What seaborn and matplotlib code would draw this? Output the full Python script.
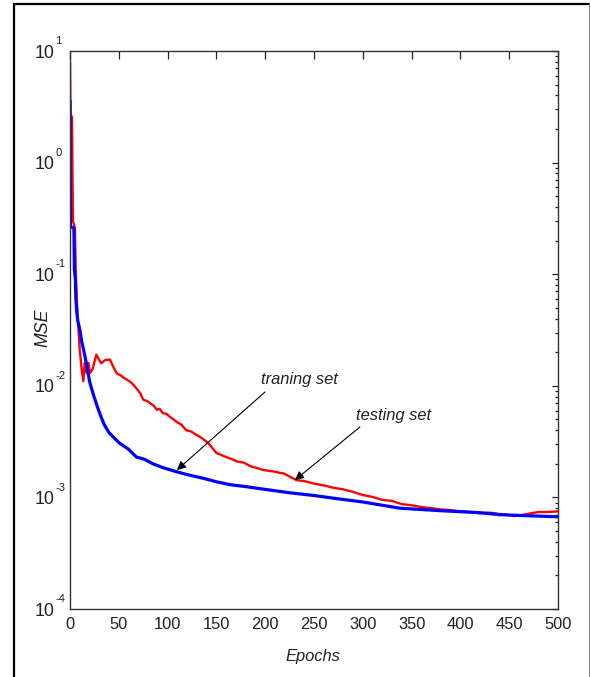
import matplotlib
matplotlib.use("Agg")
import matplotlib.pyplot as plt
import matplotlib.ticker as mticker
import matplotlib.transforms as mtransforms
from matplotlib import font_manager
from matplotlib.lines import Line2D
import numpy as np
import pandas as pd
import seaborn as sns

# Training-set MSE per epoch
train_epochs = [0, 0.5, 4, 4.5, 5.5, 6, 7, 8, 10, 12, 15, 18, 20, 22, 25, 28, 31, 35, 40,
                44, 50, 60, 68, 76, 85, 95, 109, 120, 137, 150, 164, 180, 191, 200, 225,
                250, 275, 300, 338, 380, 420, 440, 460, 480, 500]
train_mse = [3.6, 0.265, 0.26, 0.11, 0.09, 0.06, 0.045, 0.038, 0.032, 0.025, 0.019,
             0.014, 0.011, 0.0095, 0.0078, 0.0065, 0.0055, 0.0045, 0.0038, 0.0035,
             0.0031, 0.0027, 0.0023, 0.0022, 0.0020, 0.00185, 0.0017, 0.00160, 0.00148,
             0.00138, 0.0013, 0.00125, 0.00121, 0.00118, 0.00110, 0.00104, 0.00097,
             0.00091, 0.00080, 0.00076, 0.00073, 0.00070, 0.00069, 0.00068, 0.00067]

# Testing-set MSE per epoch
test_epochs = [0, 0.5, 2, 3, 5, 6, 7, 8, 10, 12, 13.7, 15, 17, 19, 20.5, 23, 27, 30, 32,
               36, 41, 44, 48, 52, 55, 58, 61.5, 65, 68, 72, 75, 79, 82, 86, 89, 92, 95,
               99, 102, 106, 110, 114, 119, 124, 128, 133, 137, 141, 144, 150, 155, 160,
               166, 171, 178, 185, 192, 198, 204, 210, 215, 219, 226, 232, 240, 250, 260,
               270, 280, 290, 300, 310, 320, 330, 340, 350, 360, 370, 380, 390, 400, 410,
               420, 430, 440, 448, 455, 462, 465, 472, 480, 490, 500]
test_mse = [8.0, 2.6, 2.6, 0.3, 0.26, 0.1, 0.06, 0.04, 0.021, 0.014, 0.011, 0.016, 0.013,
            0.016, 0.013, 0.014, 0.019, 0.017, 0.0159, 0.017, 0.0172, 0.015, 0.0129,
            0.0124, 0.0118, 0.0114, 0.0109, 0.0102, 0.0095, 0.0086, 0.0075, 0.0073,
            0.0070, 0.0066, 0.0061, 0.0062, 0.0057, 0.0056, 0.0053, 0.0050, 0.0047,
            0.0045, 0.0040, 0.0039, 0.0037, 0.0035, 0.0033, 0.0031, 0.0029, 0.0025,
            0.0024, 0.0023, 0.0022, 0.0021, 0.00205, 0.0019, 0.00183, 0.00176,
            0.00173, 0.00170, 0.00166, 0.00164, 0.00152, 0.00143, 0.00140, 0.00133,
            0.00128, 0.00122, 0.00118, 0.00112, 0.00105, 0.00101, 0.00095, 0.00093,
            0.00087, 0.00085, 0.00082, 0.00080, 0.00078, 0.00077, 0.00075, 0.00074,
            0.00072, 0.00073, 0.00071, 0.00070, 0.00068, 0.00069, 0.00070, 0.00072,
            0.00074, 0.00074, 0.00075]

x_ticks = list(range(0, 501, 50))
y_decades = [-4, -3, -2, -1, 0, 1]

sns.set_style("white")
available = {f.name for f in font_manager.fontManager.ttflist}
narrow = "Liberation Sans Narrow" in available
family = ["Liberation Sans Narrow" if narrow else "Liberation Sans", "DejaVu Sans"]
scale = 1.0 if narrow else 0.85
plt.rcParams["font.family"] = family

fig = plt.figure(figsize=(5.91, 6.77), dpi=100)
ax = fig.add_axes([70 / 591, 1 - 609 / 677, 488 / 591, 558 / 677])

test_df = pd.DataFrame({"Epochs": test_epochs, "MSE": test_mse})
train_df = pd.DataFrame({"Epochs": train_epochs, "MSE": train_mse})
sns.lineplot(data=test_df, x="Epochs", y="MSE", ax=ax, color="#ff0000", lw=1.7)
sns.lineplot(data=train_df, x="Epochs", y="MSE", ax=ax, color="#0000ff", lw=2.3)

ax.set_yscale("log")
ax.set_xlim(0, 500)
ax.set_ylim(1e-4, 1e1)
ax.set_xticks(x_ticks)
ax.set_xticklabels([str(v) for v in x_ticks])
ax.yaxis.set_major_locator(mticker.FixedLocator([10.0 ** d for d in y_decades]))
ax.yaxis.set_major_formatter(mticker.NullFormatter())
ax.yaxis.set_minor_locator(mticker.LogLocator(base=10, subs=np.arange(2, 10)))
ax.yaxis.set_minor_formatter(mticker.NullFormatter())

ax.tick_params(axis="both", which="both", direction="in", top=True, right=True,
               color="#222222", width=0.9)
ax.tick_params(axis="x", which="major", length=5.5, labelsize=14 * scale, pad=6,
               labelcolor="#222222")
ax.tick_params(axis="y", which="major", length=4)
ax.tick_params(axis="y", which="minor", length=2.3)
for s in ax.spines.values():
    s.set_color("#333333")
    s.set_linewidth(1.0)
ax.set_xlabel("")
ax.set_ylabel("")

# Decade labels: base "10" with a raised exponent
ytrans = mtransforms.blended_transform_factory(ax.transAxes, ax.transData)
for d in y_decades:
    ax.annotate("10", xy=(0, 10.0 ** d), xycoords=ytrans, xytext=(-11, -1.5),
                textcoords="offset points", ha="right", va="center",
                fontsize=15 * scale, color="#222222")
    ax.annotate(str(d), xy=(0, 10.0 ** d), xycoords=ytrans,
                xytext=(-10.5, 7), textcoords="offset points", ha="left",
                va="center", fontsize=9.5 * scale, color="#222222")

fig.text(313 / 591, 1 - 656 / 677, "Epochs", fontsize=14 * scale, style="italic",
         ha="center", va="center", color="#222222")
fig.text(43 / 591, 1 - 328 / 677, "MSE", fontsize=15 * scale, style="italic",
         rotation=90, ha="center", va="center", color="#222222")

arrow = dict(arrowstyle="-|>", color="black", lw=0.8, mutation_scale=13,
             shrinkA=0, shrinkB=0)
ax.annotate("", xy=(109.6, 0.00176), xytext=(199.8, 0.0088), arrowprops=arrow)
ax.annotate("", xy=(230.5, 0.00143), xytext=(297, 0.00427), arrowprops=arrow)
ax.text(234.6, 0.0113, "traning set", fontsize=14 * scale, style="italic",
        ha="center", va="center", color="#222222")
ax.text(332, 0.00547, "testing set", fontsize=14 * scale, style="italic",
        ha="center", va="center", color="#222222")

# Frame around the figure
fig.add_artist(Line2D([14 / 591, 14 / 591], [0, 1 - 4 / 677], transform=fig.transFigure,
                      color="black", lw=1.6))
fig.add_artist(Line2D([14 / 591, 589 / 591], [1 - 4 / 677, 1 - 4 / 677],
                      transform=fig.transFigure, color="black", lw=1.6))
fig.add_artist(Line2D([589 / 591, 589 / 591], [0, 1 - 4 / 677], transform=fig.transFigure,
                      color="#888888", lw=0.8))

fig.savefig("out.png", dpi=100)
